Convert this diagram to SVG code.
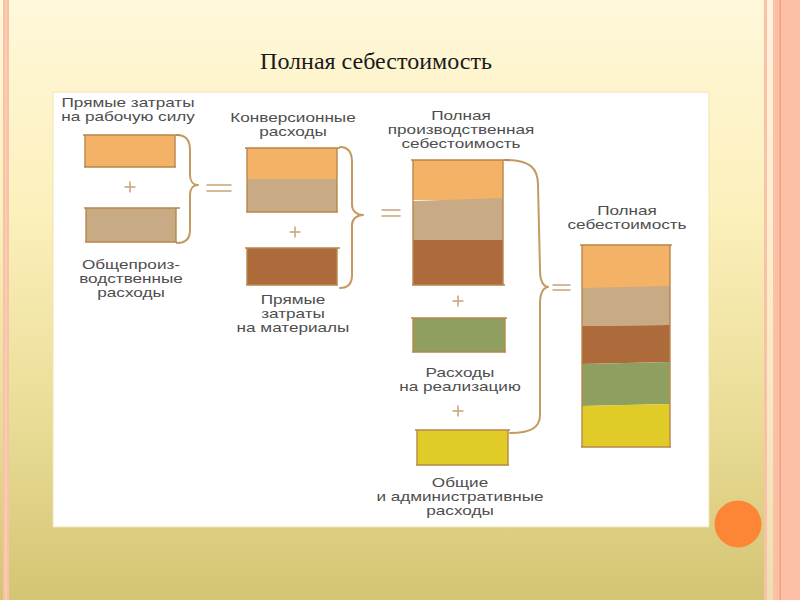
<svg xmlns="http://www.w3.org/2000/svg" width="800" height="600" viewBox="0 0 800 600">
  <defs>
    <linearGradient id="bg" x1="0" y1="0" x2="0" y2="1">
      <stop offset="0" stop-color="#fff8da"/>
      <stop offset="0.35" stop-color="#fcf0bc"/>
      <stop offset="0.7" stop-color="#eadc96"/>
      <stop offset="1" stop-color="#d4c474"/>
    </linearGradient>
    <style>
      .lbl { font-family: "Liberation Sans", Arial, sans-serif; font-size: 13.5px; fill: #4e4e4e; text-anchor: middle; }
      .title { font-family: "Liberation Serif", "Times New Roman", serif; font-size: 24px; fill: #1a1a1a; text-anchor: middle; }
      .edge { fill: none; stroke: #b8874a; stroke-width: 1.4; }
      .brace { fill: none; stroke: #c49a62; stroke-width: 2; stroke-linecap: round; stroke-linejoin: round; }
      .op { fill: none; stroke: #c8a478; stroke-width: 1.5; stroke-linecap: round; }
      .orange { fill: #f3b266; }
      .tan { fill: #c8aa84; }
      .brown { fill: #ad6a3a; }
      .green { fill: #8e9f5f; }
      .yellow { fill: #e1cb26; }
    </style>
  </defs>

  <!-- slide background -->
  <rect x="0" y="0" width="800" height="600" fill="url(#bg)"/>
  <rect x="3" y="0" width="6" height="600" fill="#f8c2a6"/>
  <rect x="5.5" y="0" width="1" height="600" fill="#fbd6c0"/>
  <rect x="764" y="0" width="3" height="600" fill="#f9c2a6"/>
  <rect x="767" y="0" width="6" height="600" fill="#fff0dc" opacity="0.6"/>
  <rect x="773" y="0" width="27" height="600" fill="#fbc0a6"/>
  <rect x="779.5" y="0" width="1.5" height="600" fill="#f2a27e"/>
  <circle cx="738" cy="524" r="23.5" fill="#fd8636"/>

  <text class="title" x="376" y="69">Полная себестоимость</text>

  <!-- picture panel -->
  <rect x="53" y="92" width="656" height="435" fill="#ffffff" stroke="#f0e4b0" stroke-width="1"/>

  <g id="connectors">
    <!-- braces -->
    <path class="brace" d="M177,135 C186,135 190,140 190,150 L190,175 C190,181 193,185 198,185 C193,185 190,189 190,195 L190,230 C190,239 186,243 177,243"/>
    <path class="brace" d="M340,147 C349,147 352,153 352,162 L352,205 C352,211 357,215 363,215 C357,215 352,219 352,225 L352,275 C352,283 348,288 340,288"/>
    <path class="brace" d="M505,160 C530,160 538,168 538,185 L540,270 C540,280 543,286 548,287 C543,288 540,294 540,304 L540,415 C540,428 530,433 510,433"/>
    <!-- plus signs -->
    <path class="op" d="M125,187 h10 M130,182 v10"/>
    <path class="op" d="M290,232 h10 M295,227 v10"/>
    <path class="op" d="M453,301 h10 M458,296 v10"/>
    <path class="op" d="M453,411 h10 M458,406 v10"/>
    <!-- equals signs -->
    <path class="op" d="M207,185 h24 M207,191 h24"/>
    <path class="op" d="M382,210 h18 M382,216 h18"/>
    <path class="op" d="M553,285 h17 M553,290 h17"/>
  </g>

  <g id="n-labor">
    <text class="lbl" transform="translate(128 0) scale(1.27 1)"><tspan x="0" y="107">Прямые затраты</tspan><tspan x="0" y="121">на рабочую силу</tspan></text>
    <rect class="orange" x="85" y="135" width="90" height="32"/>
    <path class="edge" d="M83,135 H180 M85,135 V167 M175,135 V167 M84,167 H176"/>
  </g>

  <g id="n-overhead">
    <rect class="tan" x="86" y="208" width="90" height="34"/>
    <path class="edge" d="M84,208 H180 M86,208 V242 M176,208 V242 M85,242 H177"/>
    <text class="lbl" transform="translate(131 0) scale(1.27 1)"><tspan x="0" y="269">Общепроиз-</tspan><tspan x="0" y="283">водственные</tspan><tspan x="0" y="297">расходы</tspan></text>
  </g>

  <g id="n-conversion">
    <text class="lbl" transform="translate(293 0) scale(1.27 1)"><tspan x="0" y="122">Конверсионные</tspan><tspan x="0" y="136">расходы</tspan></text>
    <rect class="orange" x="247" y="148" width="90" height="31"/>
    <rect class="tan" x="247" y="179" width="90" height="33"/>
    <path class="edge" d="M245,148 H340 M247,148 V212 M337,148 V212 M246,212 H338"/>
  </g>

  <g id="n-materials">
    <rect class="brown" x="247" y="248" width="90" height="37"/>
    <path class="edge" d="M245,248 H340 M247,248 V285 M337,248 V285 M246,285 H338"/>
    <text class="lbl" transform="translate(293 0) scale(1.27 1)"><tspan x="0" y="304">Прямые</tspan><tspan x="0" y="318">затраты</tspan><tspan x="0" y="332">на материалы</tspan></text>
  </g>

  <g id="n-production">
    <text class="lbl" transform="translate(461 0) scale(1.27 1)"><tspan x="0" y="120">Полная</tspan><tspan x="0" y="134">производственная</tspan><tspan x="0" y="148">себестоимость</tspan></text>
    <rect class="orange" x="413" y="160" width="90" height="40"/>
    <path class="tan" d="M413,201 L503,198 L503,240 L413,240 Z"/>
    <rect class="brown" x="413" y="240" width="90" height="45"/>
    <path class="edge" d="M411,160 H510 M413,160 V285 M503,160 V285 M412,285 H505"/>
  </g>

  <g id="n-selling">
    <rect class="green" x="413" y="318" width="92" height="34"/>
    <path class="edge" d="M411,318 H507 M413,318 V352 M505,318 V352 M412,352 H506"/>
    <text class="lbl" transform="translate(460 0) scale(1.27 1)"><tspan x="0" y="377">Расходы</tspan><tspan x="0" y="391">на реализацию</tspan></text>
  </g>

  <g id="n-admin">
    <rect class="yellow" x="417" y="430" width="91" height="35"/>
    <path class="edge" d="M415,430 H510 M417,430 V465 M508,430 V465 M416,465 H509"/>
    <text class="lbl" transform="translate(460 0) scale(1.27 1)"><tspan x="0" y="487">Общие</tspan><tspan x="0" y="501">и административные</tspan><tspan x="0" y="515">расходы</tspan></text>
  </g>

  <g id="n-total">
    <text class="lbl" transform="translate(627 0) scale(1.27 1)"><tspan x="0" y="215">Полная</tspan><tspan x="0" y="229">себестоимость</tspan></text>
    <rect class="orange" x="582" y="245" width="88" height="43"/>
    <path class="tan" d="M582,288 L670,286 L670,325 L582,326 Z"/>
    <path class="brown" d="M582,326 L670,325 L670,362 L582,364 Z"/>
    <path class="green" d="M582,364 L670,362 L670,404 L582,406 Z"/>
    <path class="yellow" d="M582,406 L670,404 L670,447 L582,447 Z"/>
    <path class="edge" d="M580,245 H672 M582,245 V447 M670,245 V447 M581,447 H671"/>
  </g>
</svg>
